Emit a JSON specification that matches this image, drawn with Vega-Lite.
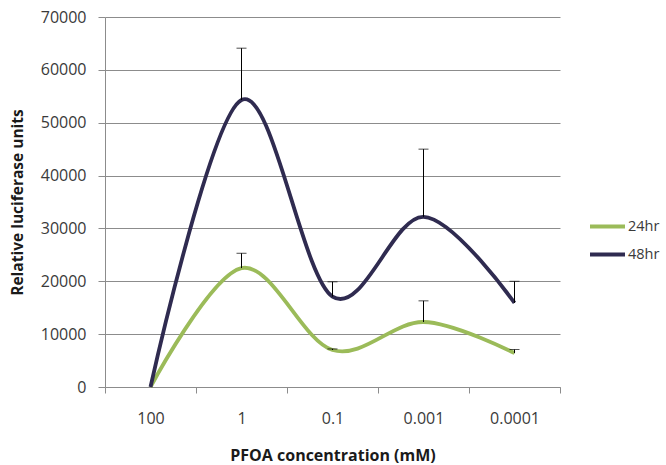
{
  "$schema": "https://vega.github.io/schema/vega-lite/v6.json",
  "width": 455,
  "height": 370,
  "autosize": {"type": "none"},
  "padding": {"left": 105, "top": 17, "right": 106, "bottom": 78},
  "background": "white",
  "config": {
    "view": {"stroke": null},
    "font": "Open Sans"
  },
  "data": {
    "values": [
      {"series": "24hr", "conc": "100", "value": 0, "upper": null},
      {"series": "24hr", "conc": "1", "value": 22500, "upper": 25300},
      {"series": "24hr", "conc": "0.1", "value": 7000, "upper": 7200},
      {"series": "24hr", "conc": "0.001", "value": 12300, "upper": 16300},
      {"series": "24hr", "conc": "0.0001", "value": 6400, "upper": 7100},
      {"series": "48hr", "conc": "100", "value": 0, "upper": null},
      {"series": "48hr", "conc": "1", "value": 54300, "upper": 64100},
      {"series": "48hr", "conc": "0.1", "value": 17100, "upper": 19900},
      {"series": "48hr", "conc": "0.001", "value": 32200, "upper": 45000},
      {"series": "48hr", "conc": "0.0001", "value": 15900, "upper": 20000}
    ]
  },
  "encoding": {
    "x": {
      "field": "conc",
      "type": "nominal",
      "sort": null,
      "scale": {"paddingInner": 0, "paddingOuter": 0},
      "axis": {
        "title": "PFOA concentration  (mM)",
        "labelAngle": 0,
        "tickBand": "extent",
        "tickSize": 6,
        "tickColor": "#8c8c8c",
        "domainColor": "#8c8c8c",
        "labelFont": "Open Sans",
        "labelFontSize": 16,
        "labelColor": "#3a3a3a",
        "labelBaseline": "middle",
        "labelPadding": 25,
        "titleFont": "Open Sans",
        "titleFontSize": 16,
        "titleFontWeight": "bold",
        "titleColor": "#1a1a1a",
        "titleBaseline": "middle",
        "titleY": 68,
        "grid": false
      }
    }
  },
  "layer": [
    {
      "mark": {"type": "line", "interpolate": "cardinal", "strokeWidth": 3.8},
      "encoding": {
        "y": {
          "field": "value",
          "type": "quantitative",
          "scale": {"domain": [0, 70000], "nice": false},
          "axis": {
            "title": "Relative luciferase units",
            "values": [0, 10000, 20000, 30000, 40000, 50000, 60000, 70000],
            "format": "d",
            "grid": true,
            "gridColor": "#8c8c8c",
            "gridWidth": 1,
            "tickSize": 7,
            "tickColor": "#8c8c8c",
            "domainColor": "#8c8c8c",
            "labelFont": "Open Sans",
            "labelFontSize": 16,
            "labelColor": "#3a3a3a",
            "labelPadding": 12,
            "labelBaseline": "middle",
            "titleFont": "Open Sans",
            "titleFontSize": 15.5,
            "titleFontWeight": "bold",
            "titleColor": "#1a1a1a",
            "titleAngle": -90,
            "titleAlign": "center",
            "titleBaseline": "middle",
            "titleX": -88,
            "titleY": 185
          }
        },
        "color": {
          "field": "series",
          "type": "nominal",
          "scale": {"domain": ["24hr", "48hr"], "range": ["#9bbb59", "#2f2b50"]},
          "legend": {
            "title": null,
            "orient": "none",
            "legendX": 483,
            "legendY": 190,
            "symbolType": "stroke",
            "symbolSize": 1225,
            "symbolStrokeWidth": 4,
            "labelOffset": 1,
            "labelFont": "Open Sans",
            "labelFontSize": 14.5,
            "labelColor": "#3a3a3a",
            "rowPadding": 0,
            "padding": 0
          }
        }
      }
    },
    {
      "mark": {"type": "rule", "color": "black", "strokeWidth": 1},
      "encoding": {
        "y": {"field": "value", "type": "quantitative"},
        "y2": {"field": "upper"}
      }
    },
    {
      "mark": {"type": "tick", "color": "black", "thickness": 1, "size": 10},
      "encoding": {
        "y": {"field": "upper", "type": "quantitative"}
      }
    }
  ]
}
